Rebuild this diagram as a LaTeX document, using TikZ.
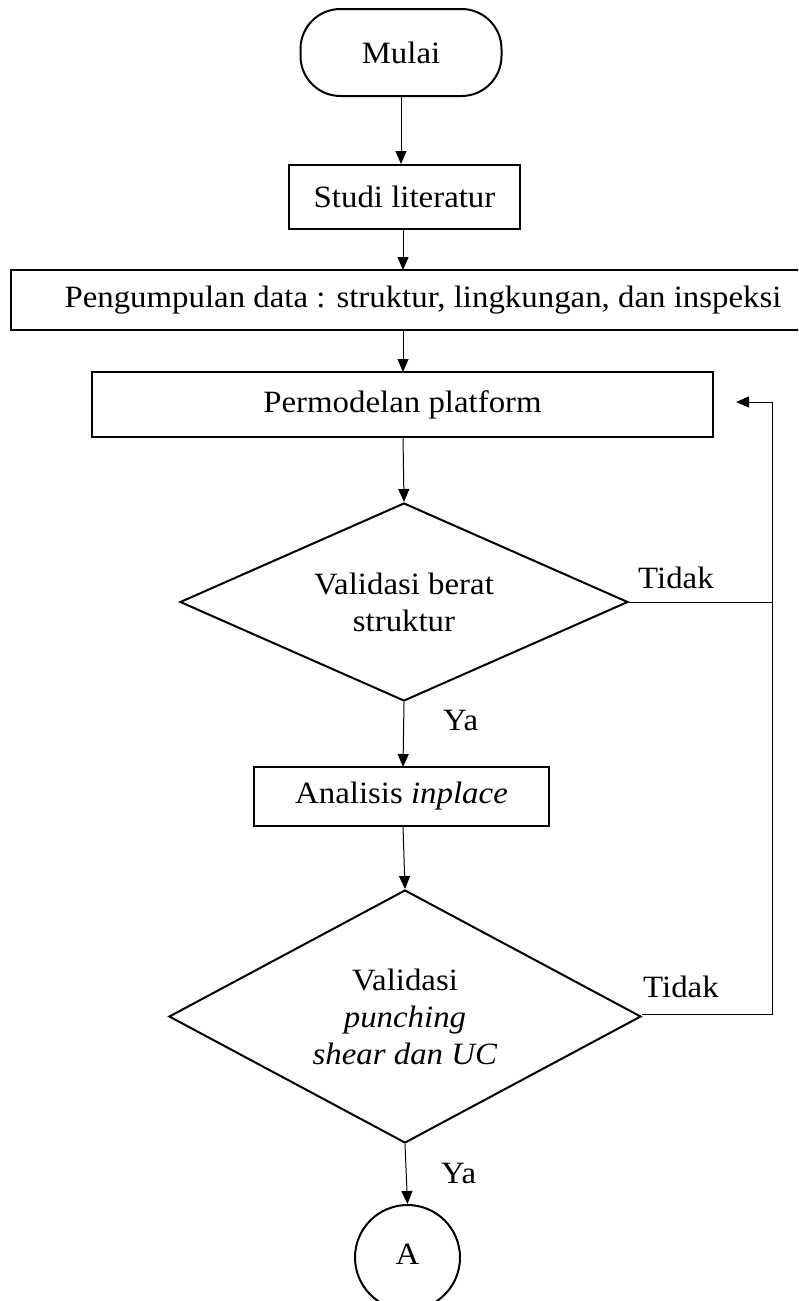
\documentclass[tikz,border=0pt]{standalone}
\usepackage{fontspec}
\setmainfont{Liberation Serif}[FakeStretch=1.06]
\usetikzlibrary{shapes.geometric,arrows.meta}
\begin{document}
\begin{tikzpicture}[x=1pt,y=-1pt,
  font=\fontsize{31}{37}\selectfont,
  boxst/.style={draw,line width=2pt,rectangle,inner sep=0pt},
  termst/.style={draw,line width=2pt,rectangle,rounded corners=40pt,inner sep=0pt},
  decst/.style={draw,line width=2pt,diamond,inner sep=0pt,align=center},
  connst/.style={draw,line width=2pt,circle,inner sep=0pt},
  flow/.style={line width=1pt,-{Triangle[length=13pt,width=11pt]}},
  plain/.style={line width=1pt},
  lbl/.style={anchor=base west,inner sep=0pt}]
\useasboundingbox (0,0) rectangle (798,1301);
\clip (0,0) rectangle (798,1301);
\fill[white] (0,0) rectangle (798,1301);

\node[termst,minimum width=201pt,minimum height=87pt] (mulai) at (401,52.5) {Mulai};
\node[boxst,minimum width=231pt,minimum height=64pt] (studi) at (404.5,197) {Studi literatur};
\node[boxst,minimum width=824pt,minimum height=60pt] (kumpul) at (423,300) {Pengumpulan data : struktur, lingkungan, dan inspeksi};
\node[boxst,minimum width=621pt,minimum height=65pt] (model) at (402.5,404.5) {Permodelan platform};
\node[decst,aspect=2.26,minimum width=448pt,minimum height=198pt] (val1) at (404,602) {Validasi berat\\struktur};
\node[boxst,minimum width=295pt,minimum height=59pt] (anal) at (401.5,796.5) {Analisis \textit{inplace}};
\node[decst,aspect=1.87,minimum width=472pt,minimum height=253pt] (val2) at (405,1016.5) {Validasi\\\textit{punching}\\\textit{shear dan UC}};
\node[connst,minimum size=105pt] (conA) at (407.5,1257.5) {\raisebox{6pt}{A}};

\coordinate (k1) at (403,0);
\draw[flow] (mulai.south) -- (mulai.south |- studi.north);
\draw[flow] (403,229) -- (403,270);
\draw[flow] (403,330) -- (403,372);
\draw[flow] (403,437) -- (val1.north);
\draw[flow] (val1.south) -- (403,767);
\draw[flow] (403,826) -- (val2.north);
\draw[flow] (val2.south) -- (conA.north);

\coordinate (fbA) at (772,602);
\coordinate (fbB) at (772,1014);
\coordinate (fbT) at (772,402);
\coordinate (fbE) at (736,402);
\draw[plain] (val1.east) -- (fbA);
\draw[plain] (val2.east |- fbB) -- (fbB) -- (fbA);
\draw[flow] (fbA) -- (fbT) -- (fbE);

\node[lbl] (t1) at (638,588) {Tidak};
\node[lbl] (t2) at (643,997) {Tidak};
\node[lbl] (y1) at (443,730) {Ya};
\node[lbl] (y2) at (441,1183) {Ya};
\end{tikzpicture}
\end{document}
